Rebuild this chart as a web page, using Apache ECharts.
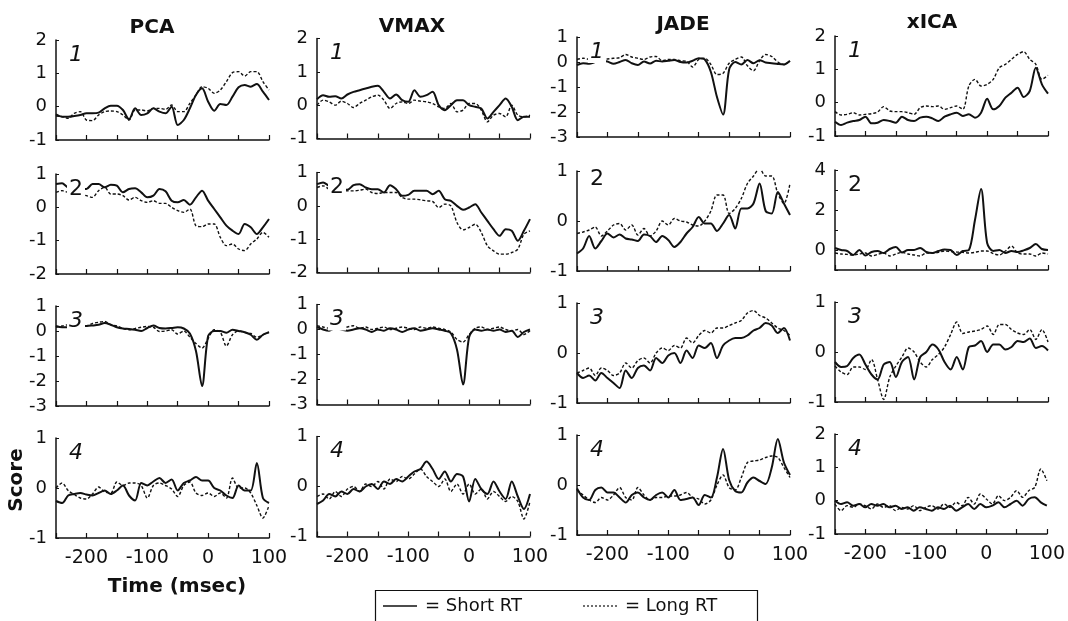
<!DOCTYPE html>
<html>
<head>
<meta charset="utf-8">
<script src="https://cdn.jsdelivr.net/npm/echarts@6/dist/echarts.min.js"></script>
<style>
html, body {margin: 0; padding: 0; background: #fff;}
#chart {width: 1068px; height: 621px;}
</style>
</head>
<body>
<div id="chart"></div>
<script>
// time axis, msec
const times = [-250, -240, -230, -220, -210, -200, -190, -180, -170, -160, -150, -140, -130, -120, -110, -100, -90, -80,
    -70, -60, -50, -40, -30, -20, -10, 0, 10, 20, 30, 40, 50, 60, 70, 80, 90, 100];

const methods = ['PCA', 'VMAX', 'JADE', 'xICA'];
const xTickLabels = [-200, -100, 0, 100];

// y ranges per row / column: [min, max]
const yRanges = [
    [[-1, 2], [-1, 2], [-3, 1], [-1, 2]],
    [[-2, 1], [-2, 1], [-1, 1], [-1, 4]],
    [[-3, 1], [-3, 1], [-1, 1], [-1, 1]],
    [[-1, 1], [-1, 1], [-1, 1], [-1, 2]]
];

// component 1
const pcaShort1 = [-0.23, -0.3, -0.3, -0.28, -0.25, -0.2, -0.2, -0.18, -0.05, 0.03, 0.03, -0.1, -0.38, -0.05, -0.25, -0.2, -0.05, -0.15,
    -0.2, 0.0, -0.55, -0.4, -0.05, 0.35, 0.55, 0.15, -0.12, 0.08, 0.05, 0.3, 0.58, 0.65, 0.6, 0.68, 0.45, 0.2];
const pcaLong1 = [-0.28, -0.3, -0.35, -0.2, -0.15, -0.4, -0.42, -0.25, -0.15, -0.13, -0.15, -0.25, -0.4, -0.1, -0.1, -0.13, -0.05, -0.05,
    -0.08, 0.05, -0.15, -0.15, 0.1, 0.35, 0.6, 0.55, 0.4, 0.5, 0.75, 1.02, 1.05, 0.92, 1.05, 1.05, 0.75, 0.5];
const vmaxShort1 = [0.18, 0.3, 0.25, 0.27, 0.2, 0.32, 0.4, 0.45, 0.5, 0.55, 0.58, 0.4, 0.2, 0.32, 0.15, 0.1, 0.45, 0.25,
    0.3, 0.4, 0.0, -0.15, 0.0, 0.15, 0.15, 0.0, -0.05, -0.1, -0.4, -0.2, 0.0, 0.2, -0.05, -0.45, -0.35, -0.35];
const vmaxLong1 = [0.0, 0.15, 0.1, 0.0, 0.12, 0.05, -0.07, 0.05, 0.15, 0.25, 0.3, 0.15, -0.1, 0.05, 0.1, 0.05, 0.15, 0.12,
    0.1, 0.05, -0.05, -0.1, 0.05, -0.2, -0.15, 0.05, 0.05, -0.15, -0.5, -0.3, -0.25, -0.35, 0.0, -0.3, -0.35, -0.3];
const jadeShort1 = [-0.12, -0.05, -0.07, 0.0, 0.05, 0.02, -0.07, 0.0, 0.08, -0.05, -0.12, 0.02, -0.06, 0.05, 0.02, 0.05, 0.08, 0.0,
    -0.02, 0.05, 0.15, 0.1, -0.4, -1.4, -2.1, -0.3, 0.0, -0.1, 0.08, -0.05, 0.07, -0.02, -0.05, -0.08, -0.1, 0.05];
const jadeLong1 = [0.1, 0.15, 0.1, 0.05, 0.08, 0.12, 0.15, 0.17, 0.3, 0.2, 0.15, 0.1, 0.2, 0.22, 0.05, 0.1, 0.1, 0.05,
    0.03, -0.2, 0.1, 0.15, -0.1, -0.5, -0.45, -0.05, 0.1, 0.2, -0.15, -0.35, 0.05, 0.3, 0.22, 0.0, -0.1, 0.05];
const xicaShort1 = [-0.57, -0.67, -0.6, -0.55, -0.52, -0.42, -0.62, -0.6, -0.52, -0.55, -0.6, -0.42, -0.52, -0.55, -0.45, -0.42, -0.47, -0.55,
    -0.42, -0.35, -0.3, -0.4, -0.35, -0.45, -0.3, 0.12, -0.2, -0.1, 0.15, 0.3, 0.45, 0.17, 0.35, 1.05, 0.55, 0.27];
const xicaLong1 = [-0.27, -0.37, -0.35, -0.3, -0.37, -0.35, -0.33, -0.28, -0.12, -0.25, -0.27, -0.27, -0.3, -0.35, -0.15, -0.1, -0.12, -0.1,
    -0.2, -0.15, -0.1, -0.2, 0.5, 0.7, 0.5, 0.55, 0.7, 1.05, 1.15, 1.3, 1.45, 1.53, 1.3, 1.15, 0.7, 0.82];

// component 2
const pcaShort2 = [0.7, 0.72, 0.6, 0.6, 0.55, 0.55, 0.7, 0.7, 0.6, 0.68, 0.65, 0.45, 0.55, 0.57, 0.45, 0.3, 0.35, 0.55,
    0.48, 0.2, 0.15, 0.22, 0.08, 0.3, 0.5, 0.2, -0.05, -0.3, -0.55, -0.7, -0.8, -0.5, -0.6, -0.8, -0.6, -0.35];
const pcaLong2 = [0.45, 0.5, 0.45, 0.45, 0.4, 0.35, 0.3, 0.5, 0.6, 0.4, 0.4, 0.35, 0.22, 0.3, 0.2, 0.15, 0.2, 0.12,
    0.12, 0.0, -0.1, -0.15, -0.05, -0.55, -0.58, -0.5, -0.5, -0.9, -1.15, -1.1, -1.25, -1.3, -1.1, -0.95, -0.75, -0.9];
const vmaxShort2 = [0.65, 0.7, 0.6, 0.55, 0.5, 0.48, 0.62, 0.65, 0.55, 0.5, 0.5, 0.4, 0.62, 0.5, 0.3, 0.33, 0.45, 0.45,
    0.45, 0.35, 0.45, 0.2, 0.15, 0.0, -0.12, -0.05, 0.05, -0.2, -0.45, -0.7, -0.9, -0.7, -0.75, -1.05, -0.75, -0.4];
const vmaxLong2 = [0.55, 0.6, 0.5, 0.45, 0.45, 0.45, 0.45, 0.47, 0.5, 0.4, 0.37, 0.4, 0.4, 0.4, 0.25, 0.2, 0.2, 0.18,
    0.15, 0.13, -0.05, 0.05, 0.0, -0.5, -0.72, -0.65, -0.55, -0.8, -1.2, -1.35, -1.45, -1.45, -1.4, -1.3, -0.85, -0.75];
const jadeShort2 = [-0.65, -0.55, -0.3, -0.55, -0.4, -0.25, -0.33, -0.27, -0.35, -0.37, -0.4, -0.27, -0.3, -0.42, -0.3, -0.38, -0.52, -0.42,
    -0.25, -0.12, 0.08, -0.05, -0.05, -0.2, -0.05, 0.12, -0.15, 0.25, 0.25, 0.35, 0.75, 0.2, 0.15, 0.58, 0.35, 0.12];
const jadeLong2 = [-0.25, -0.22, -0.18, -0.12, -0.3, -0.2, -0.08, -0.05, -0.18, -0.08, -0.28, -0.15, -0.3, -0.2, 0.0, -0.08, 0.05, 0.0,
    -0.02, -0.08, -0.1, 0.0, 0.2, 0.52, 0.52, 0.15, 0.25, 0.45, 0.75, 0.9, 1.05, 0.9, 0.9, 0.55, 0.35, 0.75];
const xicaShort2 = [0.1, 0.0, -0.05, -0.25, 0.0, -0.28, -0.1, -0.05, -0.15, 0.05, 0.15, -0.12, 0.0, 0.0, 0.1, -0.1, -0.15, -0.05,
    0.02, 0.0, -0.25, -0.05, 0.0, 1.5, 3.05, 0.35, -0.05, 0.0, -0.15, -0.05, -0.1, -0.02, 0.1, 0.3, 0.05, 0.0];
const xicaLong2 = [-0.15, -0.2, -0.22, -0.25, -0.2, -0.15, -0.3, -0.22, -0.15, -0.3, -0.2, -0.12, -0.2, -0.25, -0.3, -0.15, -0.15, -0.12,
    -0.05, -0.08, -0.1, -0.12, -0.15, -0.12, -0.05, -0.05, -0.18, -0.25, -0.05, 0.2, -0.15, -0.2, -0.2, -0.3, -0.15, -0.2];

// component 3
const pcaShort3 = [0.2, 0.15, 0.15, 0.2, 0.22, 0.2, 0.22, 0.25, 0.32, 0.25, 0.15, 0.1, 0.08, 0.05, 0.0, 0.12, 0.22, 0.12,
    0.1, 0.12, 0.15, 0.1, -0.1, -0.8, -2.2, -0.2, 0.0, 0.0, -0.07, 0.05, 0.0, -0.05, -0.15, -0.35, -0.15, -0.05];
const pcaLong3 = [0.15, 0.2, 0.25, 0.2, 0.2, 0.2, 0.3, 0.35, 0.38, 0.25, 0.2, 0.1, 0.05, 0.1, 0.15, 0.18, 0.15, -0.02,
    0.0, 0.05, -0.12, 0.0, -0.25, -0.5, -0.68, -0.3, 0.05, -0.05, -0.6, -0.15, 0.0, -0.05, -0.1, -0.25, -0.15, -0.05];
const vmaxShort3 = [0.1, 0.0, -0.05, 0.05, 0.0, -0.05, 0.0, 0.05, 0.0, -0.1, 0.0, -0.05, 0.05, 0.0, -0.1, 0.0, 0.05, -0.05,
    0.0, 0.05, 0.0, -0.05, -0.15, -0.8, -2.2, -0.3, 0.0, -0.05, 0.0, -0.05, 0.0, -0.1, -0.05, -0.3, -0.1, 0.0];
const vmaxLong3 = [0.15, 0.1, 0.05, 0.1, 0.05, 0.1, 0.15, 0.05, 0.1, 0.0, 0.05, 0.1, 0.0, 0.05, 0.1, 0.05, 0.0, 0.1,
    0.05, 0.1, 0.05, 0.0, -0.1, -0.4, -0.5, -0.2, 0.05, 0.1, 0.0, 0.05, 0.1, 0.0, -0.05, 0.0, -0.2, -0.05];
const jadeShort3 = [-0.4, -0.5, -0.45, -0.55, -0.4, -0.5, -0.6, -0.7, -0.35, -0.5, -0.3, -0.25, -0.35, -0.1, -0.2, -0.05, 0.0, -0.2,
    0.05, -0.1, 0.15, 0.1, 0.2, -0.1, 0.15, 0.25, 0.3, 0.3, 0.35, 0.45, 0.5, 0.6, 0.55, 0.4, 0.5, 0.25];
const jadeLong3 = [-0.4, -0.35, -0.3, -0.45, -0.3, -0.35, -0.45, -0.4, -0.2, -0.3, -0.15, -0.1, -0.2, 0.0, 0.1, 0.05, 0.15, 0.1,
    0.3, 0.2, 0.35, 0.45, 0.4, 0.5, 0.5, 0.55, 0.6, 0.65, 0.8, 0.85, 0.75, 0.7, 0.6, 0.5, 0.45, 0.35];
const xicaShort3 = [-0.2, -0.3, -0.28, -0.12, -0.05, -0.25, -0.45, -0.55, -0.25, -0.2, -0.5, -0.2, -0.1, -0.55, -0.1, 0.0, 0.15, 0.05,
    -0.2, -0.35, -0.1, -0.35, 0.1, 0.13, 0.22, 0.0, 0.15, 0.15, 0.05, 0.1, 0.22, 0.2, 0.27, 0.08, 0.12, 0.03];
const xicaLong3 = [-0.28, -0.4, -0.45, -0.3, -0.3, -0.35, -0.15, -0.55, -0.95, -0.5, -0.28, -0.1, 0.08, 0.0, -0.2, -0.3, -0.15, -0.05,
    0.1, 0.35, 0.6, 0.37, 0.4, 0.42, 0.45, 0.52, 0.35, 0.55, 0.55, 0.45, 0.38, 0.35, 0.45, 0.25, 0.45, 0.2];

// component 4
const pcaShort4 = [-0.26, -0.3, -0.15, -0.12, -0.1, -0.13, -0.15, -0.1, -0.05, -0.12, -0.05, 0.05, -0.15, -0.25, 0.1, 0.05, 0.13, 0.2,
    0.1, 0.17, -0.05, 0.1, 0.15, 0.22, 0.15, 0.15, 0.0, -0.05, -0.15, -0.2, 0.05, -0.05, -0.05, 0.5, -0.2, -0.3];
const pcaLong4 = [0.0, 0.1, -0.05, -0.13, -0.2, -0.22, -0.12, 0.02, -0.08, -0.1, 0.12, 0.05, 0.1, 0.1, 0.05, -0.2, 0.05, 0.1,
    0.05, -0.02, -0.17, 0.05, 0.12, -0.1, -0.15, -0.1, -0.17, -0.1, -0.2, 0.2, 0.0, 0.0, -0.1, -0.35, -0.6, -0.35];
const vmaxShort4 = [-0.35, -0.28, -0.15, -0.2, -0.1, -0.15, -0.05, -0.1, 0.0, 0.05, -0.05, 0.1, 0.05, 0.15, 0.1, 0.2, 0.3, 0.35,
    0.5, 0.35, 0.15, 0.3, 0.1, 0.25, 0.2, -0.3, 0.15, -0.05, -0.15, 0.1, -0.1, -0.25, 0.1, -0.2, -0.45, -0.15];
const vmaxLong4 = [-0.2, -0.15, -0.25, -0.1, -0.2, -0.05, 0.0, -0.1, 0.05, 0.0, 0.1, -0.05, 0.15, 0.1, 0.2, 0.15, 0.25, 0.35,
    0.2, 0.1, 0.0, 0.15, -0.1, 0.05, -0.15, 0.05, -0.15, -0.05, -0.25, -0.1, -0.2, -0.3, -0.2, -0.3, -0.65, -0.3];
const jadeShort4 = [-0.07, -0.25, -0.3, -0.1, -0.05, -0.15, -0.15, -0.25, -0.35, -0.2, -0.15, -0.25, -0.3, -0.2, -0.15, -0.25, -0.1, -0.3,
    -0.28, -0.25, -0.4, -0.2, -0.25, 0.15, 0.72, 0.1, -0.12, -0.15, 0.05, 0.15, 0.08, 0.02, 0.35, 0.92, 0.45, 0.2];
const jadeLong4 = [-0.1, -0.2, -0.3, -0.35, -0.25, -0.3, -0.2, -0.05, -0.25, -0.3, -0.05, -0.2, -0.3, -0.25, -0.25, -0.22, -0.22, -0.2,
    -0.15, -0.25, -0.28, -0.38, -0.3, 0.0, 0.2, -0.05, -0.1, 0.15, 0.45, 0.48, 0.5, 0.55, 0.58, 0.55, 0.35, 0.15];
const xicaShort4 = [0.0, -0.1, -0.05, -0.15, -0.1, -0.2, -0.1, -0.15, -0.1, -0.2, -0.15, -0.25, -0.2, -0.3, -0.2, -0.25, -0.3, -0.2,
    -0.25, -0.15, -0.3, -0.2, -0.1, -0.25, -0.1, -0.2, -0.15, -0.05, -0.2, -0.1, 0.0, -0.15, 0.05, 0.1, -0.05, -0.15];
const xicaLong4 = [-0.1, -0.3, -0.15, -0.2, -0.1, -0.15, -0.25, -0.1, -0.2, -0.15, -0.3, -0.2, -0.25, -0.15, -0.3, -0.2, -0.15, -0.25,
    -0.1, -0.2, -0.05, -0.15, 0.1, -0.1, 0.2, 0.05, -0.1, 0.15, 0.0, 0.1, 0.3, 0.1, 0.3, 0.4, 0.95, 0.6];

const shortRT = [
    [pcaShort1, vmaxShort1, jadeShort1, xicaShort1],
    [pcaShort2, vmaxShort2, jadeShort2, xicaShort2],
    [pcaShort3, vmaxShort3, jadeShort3, xicaShort3],
    [pcaShort4, vmaxShort4, jadeShort4, xicaShort4]
];
const longRT = [
    [pcaLong1, vmaxLong1, jadeLong1, xicaLong1],
    [pcaLong2, vmaxLong2, jadeLong2, xicaLong2],
    [pcaLong3, vmaxLong3, jadeLong3, xicaLong3],
    [pcaLong4, vmaxLong4, jadeLong4, xicaLong4]
];

// layout
const FONT = '"DejaVu Sans", Verdana, sans-serif';
const colLeft = [56, 317, 577, 835];
const colShift = [0, -1.5, -3, -4];
const rowTop = [40, 174, 306, 438];
const panelW = 213, panelH = 100;
const titleX = [147, 407, 678, 927];
const titleY = [23, 22, 20, 18];

let grid = [], xAxis = [], yAxis = [], series = [], graphic = [];

for (let r = 0; r < 4; r++){
    for (let c = 0; c < 4; c++){
        let i = r * 4 + c;
        let top = rowTop[r] + colShift[c];
        let [yMin, yMax] = yRanges[r][c];
        grid.push({left: colLeft[c], top: top, width: panelW, height: panelH});
        xAxis.push({
            type: 'value', gridIndex: i, position: 'bottom', min: -250, max: 100, interval: 50,
            axisLine: {onZero: false, lineStyle: {color: '#111', width: 1.5}},
            axisTick: {inside: true, length: 5, lineStyle: {color: '#111', width: 1.2}},
            axisLabel: {
                show: r === 3, margin: 11, color: '#111', fontFamily: FONT, fontSize: 19,
                formatter: v => xTickLabels.indexOf(v) >= 0 ? String(v) : ''
            },
            splitLine: {show: false}
        });
        yAxis.push({
            type: 'value', gridIndex: i, position: 'left', min: yMin, max: yMax, interval: 1,
            axisLine: {show: true, onZero: false, lineStyle: {color: '#111', width: 1.5}},
            axisTick: {show: true, inside: true, length: 3, lineStyle: {color: '#111'}},
            axisLabel: {
                margin: 9, color: '#111', fontFamily: FONT, fontSize: 18,
                formatter: v => (yMax === 4 && v % 2 !== 0) ? '' : String(v)
            },
            splitLine: {show: false}
        });
        series.push({
            type: 'line', xAxisIndex: i, yAxisIndex: i, showSymbol: false, smooth: 0.3,
            data: times.map((t, k) => [t, longRT[r][c][k]]),
            lineStyle: {color: '#111', width: 1.4, type: [3, 2]}
        });
        series.push({
            type: 'line', xAxisIndex: i, yAxisIndex: i, showSymbol: false, smooth: 0.3,
            data: times.map((t, k) => [t, shortRT[r][c][k]]),
            lineStyle: {color: '#111', width: 2}
        });
        // panel number
        graphic.push({
            type: 'text', z: 100,
            x: colLeft[c] + 20, y: top + ((r === 1 && c === 2) ? 8 : 15),
            style: {
                text: String(r + 1), fill: '#111', align: 'center', verticalAlign: 'middle',
                font: (r === 1 ? 'normal ' : 'italic ') + '22px ' + FONT,
                backgroundColor: '#fff', padding: [0, 2]
            }
        });
    }
}

let titles = methods.map((m, c) => ({
    text: m, left: titleX[c], top: titleY[c], textAlign: 'center', textVerticalAlign: 'middle',
    textStyle: {fontFamily: FONT, fontWeight: 'bold', fontSize: 20, color: '#111'}
}));

graphic.push(
    {type: 'text', x: 17, y: 480, rotation: Math.PI / 2,
        style: {text: 'Score', align: 'center', verticalAlign: 'middle', fill: '#111', font: 'bold 20px ' + FONT}},
    {type: 'text', x: 177, y: 587,
        style: {text: 'Time (msec)', align: 'center', verticalAlign: 'middle', fill: '#111', font: 'bold 20px ' + FONT}},
    // legend box
    {type: 'rect', shape: {x: 375.5, y: 590.5, width: 382, height: 45},
        style: {fill: '#fff', stroke: '#111', lineWidth: 1.2}},
    {type: 'line', shape: {x1: 383, y1: 606, x2: 417, y2: 606}, style: {stroke: '#111', lineWidth: 1.6}},
    {type: 'text', x: 425, y: 606,
        style: {text: '= Short RT', align: 'left', verticalAlign: 'middle', fill: '#111', font: '18px ' + FONT}},
    {type: 'line', shape: {x1: 583, y1: 606, x2: 617, y2: 606}, style: {stroke: '#111', lineWidth: 1.2, lineDash: [2, 2]}},
    {type: 'text', x: 625, y: 606,
        style: {text: '= Long RT', align: 'left', verticalAlign: 'middle', fill: '#111', font: '18px ' + FONT}}
);

const chart = echarts.init(document.getElementById('chart'));
chart.setOption({
    animation: false,
    backgroundColor: '#fff',
    title: titles,
    grid, xAxis, yAxis, series, graphic
});
</script>
</body>
</html>
